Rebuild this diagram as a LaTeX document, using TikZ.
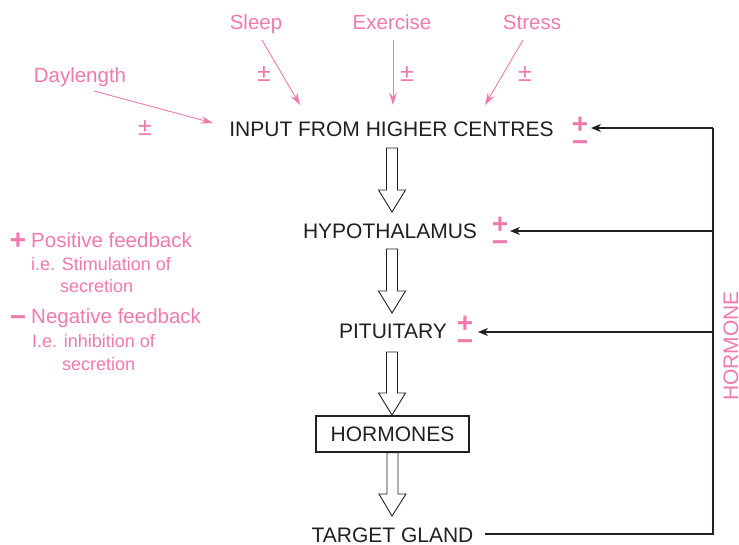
\documentclass[tikz,border=0pt]{standalone}
\usepackage{fontspec}
\setmainfont{Liberation Sans}
\usetikzlibrary{arrows.meta,calc}
\definecolor{pk}{RGB}{240,122,172}
\definecolor{ink}{RGB}{35,31,32}
\newcommand\fsz[1]{\fontsize{#1}{#1}\selectfont}
\newcommand\hollowarrow[2]{\draw[hol] let \p1=(#1),\p2=(#2) in
  (\x1-5.5pt,\y1) -- (\x1+5.5pt,\y1) -- (\x1+5.5pt,\y2+22pt) -- (\x1+13.5pt,\y2+22pt)
  -- (\x2,\y2) -- (\x1-13.5pt,\y2+22pt) -- (\x1-5.5pt,\y2+22pt) -- cycle;}
\begin{document}
\begin{tikzpicture}[x=1pt,y=-1pt,
  lab/.style={text=ink,font=\fsz{21},inner sep=0pt,anchor=base},
  plab/.style={text=pk,font=\fsz{20.5},inner sep=0pt,anchor=base},
  slab/.style={text=pk,font=\fsz{18},inner sep=0pt,anchor=base west},
  pm/.style={text=pk,font=\fsz{25},inner sep=0pt,anchor=base},
  bigpm/.style={text=pk,font=\bfseries\fontsize{28}{18}\selectfont,inner sep=0pt,align=center},
  legpm/.style={text=pk,font=\bfseries\fsz{28},inner sep=0pt,anchor=base},
  parr/.style={draw=pk,line width=0.9pt,-{Stealth[length=12pt,width=7.5pt]}},
  fb/.style={draw=ink,line width=1.1pt,-{Stealth[length=10pt,width=8pt,inset=3pt]}},
  hol/.style={draw=ink,line width=0.9pt,fill=white}]
\path[use as bounding box] (0,0) rectangle (739,544);

% pink inputs
\node[plab] (sleep) at (256,29) {Sleep};
\node[plab] (exer) at (392,29) {Exercise};
\node[plab] (stress) at (532,29) {Stress};
\node[plab] (day) at (80,82) {Daylength};
\node[pm] (pmsleep) at (264,81) {±};
\node[pm] (pmexer) at (407,81) {±};
\node[pm] (pmstress) at (525,81) {±};
\node[pm] (pmday) at (145,135) {±};

% main chain
\node[lab] (input) at (391.5,136) {INPUT FROM HIGHER CENTRES};
\node[lab] (hyp) at (390,238) {HYPOTHALAMUS};
\node[lab] (pit) at (393,338) {PITUITARY};
\node[draw=ink,line width=1.2pt,minimum width=153pt,minimum height=36pt,
      font=\fsz{21},text=ink,inner sep=0pt] (horm) at (392.5,434) {HORMONES};
\node[lab] (target) at (392.5,542) {TARGET GLAND};

% big +/- signs
\node[bigpm] (ipm) at (580,134) {+\\−};
\node[bigpm] (hpm) at (500,234) {+\\−};
\node[bigpm] (ppm) at (465,333.5) {+\\−};

% pink arrows
\coordinate (sleepS) at (262,40);  \coordinate (sleepE) at (300,105);
\coordinate (exerS) at (393,40);   \coordinate (exerE) at (393,105);
\coordinate (stressS) at (523,40); \coordinate (stressE) at (485,105);
\coordinate (dayS) at (94,91);     \coordinate (dayE) at (213,123);
\draw[parr] (sleepS) -- (sleepE);
\draw[parr] (exerS) -- (exerE);
\draw[parr] (stressS) -- (stressE);
\draw[parr] (dayS) -- (dayE);

% hollow arrows
\coordinate (a1s) at (392,148); \coordinate (a1e) at (392,212);
\coordinate (a2s) at (392,249); \coordinate (a2e) at (392,313);
\coordinate (a3s) at (392,352); \coordinate (a3e) at (392,415);
\coordinate (a4e) at (392,516);
\hollowarrow{a1s}{a1e}
\hollowarrow{a2s}{a2e}
\hollowarrow{a3s}{a3e}
\hollowarrow{horm.south}{a4e}

% feedback loop
\coordinate (tgE) at (485,534);
\coordinate (rb) at (713,534);
\coordinate (rt) at (713,128);
\coordinate (rh) at (713,231);
\coordinate (rp) at (713,332);
\draw[draw=ink,line width=1.1pt] (tgE) -- (rb) -- (rt);
\draw[fb] (rt) -- (591,128);
\draw[fb] (rh) -- (510,231);
\draw[fb] (rp) -- (478,332);
\node[text=pk,font=\fsz{21},rotate=90,inner sep=0pt] (hl) at (731,346) {HORMONE};

% legend
\node[legpm] (lp) at (18,249) {+};
\node[plab,anchor=base west] (l1) at (31,247) {Positive feedback};
\node[slab] (l2) at (31,270) {i.e. Stimulation of};
\node[slab] (l3) at (60,292) {secretion};
\node[legpm] (lm) at (18,326) {−};
\node[plab,anchor=base west] (l4) at (31,323) {Negative feedback};
\node[slab] (l5) at (32,347) {I.e. inhibition of};
\node[slab] (l6) at (62,370) {secretion};
\end{tikzpicture}
\end{document}
